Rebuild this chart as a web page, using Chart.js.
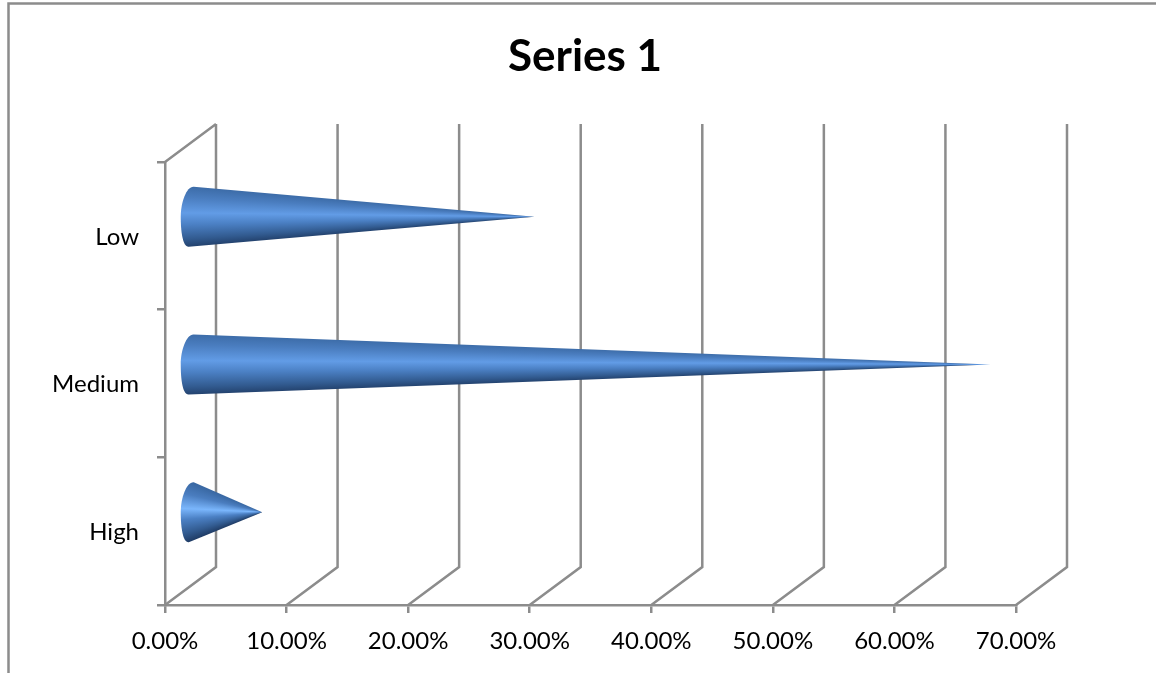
<!DOCTYPE html>
<html>
<head>
<meta charset="utf-8">
<title>Series 1</title>
<script src="https://cdn.jsdelivr.net/npm/chart.js@4"></script>
<style>
  html, body { margin: 0; background: #fff; overflow: hidden; }
  #chCone { display: block; }
</style>
</head>
<body>
<canvas id="chCone" width="1156" height="673"></canvas>
<script>
var categories = ['Low', 'Medium', 'High'];
var seriesValues = [28.3, 65.8, 5.9];
var seriesName = 'Series 1';

var lineColor = '#8c8c8c';
var fontName = 'Lato, Carlito, sans-serif';
// how far the back wall sits behind the front axes
var depthX = 51, depthY = -38;

// frame + the back wall lines, these go under the cones
var wallPlugin = {
  id: 'wall',
  afterLayout: function (chart) {
    // title is centred on the whole frame, not just on the plot
    chart.titleBlock.right = chart.width;
  },
  beforeDatasetsDraw: function (chart) {
    var ctx = chart.ctx, x = chart.scales.x, area = chart.chartArea;
    ctx.save();
    ctx.strokeStyle = lineColor;
    ctx.lineWidth = 2.5;
    ctx.strokeRect(8.5, 3.5, chart.width + 20, chart.height + 20);

    ctx.beginPath();
    ctx.moveTo(area.left, area.top);
    ctx.lineTo(area.left + depthX, area.top + depthY);
    x.ticks.forEach(function (t) {
      var px = x.getPixelForValue(t.value);
      ctx.moveTo(px, area.bottom);
      ctx.lineTo(px + depthX, area.bottom + depthY);
      ctx.lineTo(px + depthX, area.top + depthY);
    });
    ctx.stroke();
    ctx.restore();
  }
};

// bars stay transparent, each one gets a cone drawn on its own geometry
var conePlugin = {
  id: 'cone',
  afterDatasetsDraw: function (chart) {
    var ctx = chart.ctx;
    chart.getDatasetMeta(0).data.forEach(function (bar) {
      var baseX = bar.base + depthX / 2;
      var tipX = bar.x + depthX / 2;
      var y = bar.y + depthY / 2;
      var h = bar.height / 2;
      var half = Math.atan2(h, tipX - baseX + 10);

      // shading runs along the cone, so it has to meet at the tip
      var shade = ctx.createConicGradient(Math.PI - half * 1.1, tipX, y);
      var sweep = half * 2.2 / (Math.PI * 2);
      var bright = half > 0.2 ? '#7ab6fc' : '#629ce6';
      shade.addColorStop(0, '#1f3b64');
      shade.addColorStop(sweep * 0.16, '#325b90');
      shade.addColorStop(sweep * 0.38, '#4b80c4');
      shade.addColorStop(sweep * 0.56, bright);
      shade.addColorStop(sweep * 0.8, '#4a7dbf');
      shade.addColorStop(sweep, '#3a69a4');
      shade.addColorStop(1, '#1f3b64');

      ctx.save();
      ctx.fillStyle = shade;
      ctx.beginPath();
      ctx.moveTo(tipX, y);
      ctx.lineTo(baseX + 2, y - h);
      ctx.bezierCurveTo(baseX - 5, y - h - 0.5, baseX - 11, y - h * 0.5, baseX - 11, y);
      ctx.bezierCurveTo(baseX - 11, y + h * 0.5, baseX - 9, y + h + 0.5, baseX - 3, y + h);
      ctx.closePath();
      ctx.fill();
      ctx.restore();
    });
  }
};

new Chart(document.getElementById('chCone'), {
  type: 'bar',
  data: {
    labels: categories,
    datasets: [{
      label: seriesName,
      data: seriesValues,
      backgroundColor: 'rgba(0,0,0,0)',
      borderWidth: 0,
      categoryPercentage: 1,
      barPercentage: 0.406
    }]
  },
  plugins: [wallPlugin, conePlugin],
  options: {
    indexAxis: 'y',
    responsive: false,
    animation: false,
    layout: { padding: { left: 14, right: 140, top: 0, bottom: 0 } },
    plugins: {
      legend: { display: false },
      tooltip: { enabled: false },
      title: {
        display: true,
        text: seriesName,
        color: '#000',
        font: { family: fontName, size: 44, weight: 'bold', lineHeight: 1 },
        padding: { top: 35, bottom: 83 }
      }
    },
    scales: {
      x: {
        min: 0,
        max: 70,
        afterFit: function (scale) { scale.height = 68; },
        grid: { drawOnChartArea: false, color: lineColor, lineWidth: 2.5, tickLength: 8 },
        border: { color: lineColor, width: 2.5 },
        ticks: {
          stepSize: 10,
          color: '#000',
          padding: 14,
          maxRotation: 0,
          font: { family: fontName, size: 24 },
          callback: function (v) { return v.toFixed(2) + '%'; }
        }
      },
      y: {
        afterFit: function (scale) { scale.width = 151; },
        grid: { drawOnChartArea: false, color: lineColor, lineWidth: 2.5, tickLength: 8 },
        border: { color: lineColor, width: 2.5 },
        ticks: {
          color: '#000',
          padding: 18,
          labelOffset: 1,
          font: { family: fontName, size: 24 }
        }
      }
    }
  }
});
</script>
</body>
</html>
